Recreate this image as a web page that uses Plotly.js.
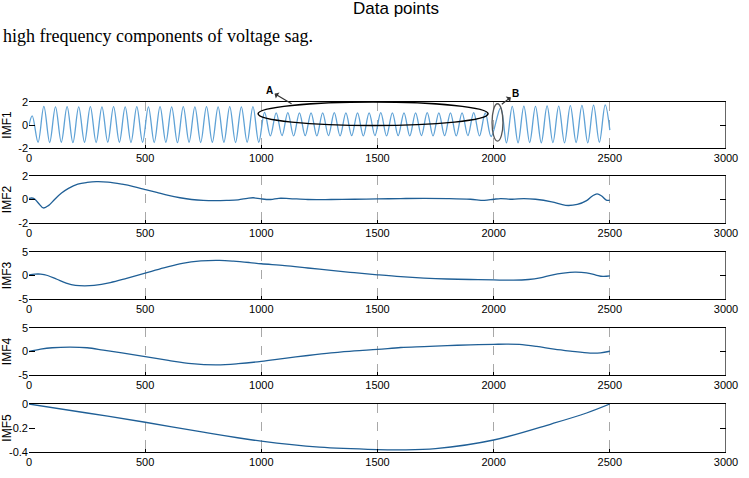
<!DOCTYPE html>
<html>
<head>
<meta charset="utf-8">
<script src="https://cdn.plot.ly/plotly-3.0.1.min.js"></script>
<style>
html,body{margin:0;padding:0;background:#fff;}
#chart{width:749px;height:478px;}
</style>
</head>
<body>
<div id="chart"></div>
<script>
// ---- data ----
const xTicks = [0, 500, 1000, 1500, 2000, 2500, 3000];
const xTickText = ["0", "500", "1000", "1500", "2000", "2500", "3000"];
const imfNames = ["IMF1", "IMF2", "IMF3", "IMF4", "IMF5"];

// IMF1: sample positions of extremes and their values
const imf1X = [0,
  14,39,64,89,114,139,164,189,214,239,264,289,314,339,364,389,414,439,464,489,
  514,539,564,589,614,639,664,689,714,739,764,789,814,839,864,889,914,939,964,989,
  1014,1039,1064,1089,1114,1139,1164,1189,1214,1239,1264,1289,1314,1339,1364,1389,1414,1439,1464,1489,
  1514,1539,1564,1589,1614,1639,1664,1689,1714,1739,1764,1789,1814,1839,1864,1889,1914,1939,1964,1989,
  2030,2055,2080,2105,2130,2155,2180,2205,2230,2255,2280,2305,2330,2355,2380,2405,2430,2455,2480,
  2500];
const imf1Y = [0,
  0.8,-1.5,
  1.62,-1.52,1.58,-1.50,1.60,-1.53,1.57,-1.50,1.60,-1.52,
  1.58,-1.50,1.60,-1.50,1.57,-1.52,1.60,-1.50,1.58,-1.52,
  1.60,-1.50,1.57,-1.53,1.60,-1.50,1.58,-1.52,1.60,-1.50,
  1.57,-1.50,1.60,-1.52,1.58,-1.50,1.60,-1.50,
  1.10,-0.95,1.05,-0.92,1.08,-0.95,1.05,-0.93,1.06,-0.95,
  1.05,-0.92,1.08,-0.95,1.05,-0.93,1.06,-0.95,1.05,-0.92,
  1.08,-0.95,1.05,-0.93,1.06,-0.95,1.05,-0.92,1.08,-0.95,
  1.05,-0.93,1.06,-0.95,1.05,-0.92,1.08,-0.95,1.05,-1.00,
  1.50,-1.55,1.62,-1.55,1.65,-1.52,1.62,-1.55,1.66,-1.53,
  1.65,-1.55,1.68,-1.52,1.70,-1.55,1.72,-1.50,1.75,
  -0.45];

const imf2X = [0,20,40,62,85,110,140,170,210,250,290,340,400,450,500,550,600,650,700,750,
  800,850,900,940,965,1000,1040,1075,1120,1200,1300,1400,1500,1600,1700,1800,1900,1960,2000,2030,
  2080,2130,2180,2250,2310,2360,2400,2425,2445,2465,2485,2500];
const imf2Y = [0.1,0.1,-0.3,-0.72,-0.5,0,0.55,0.95,1.3,1.45,1.52,1.48,1.3,1.1,0.85,0.6,0.35,0.15,0.0,-0.08,
  -0.1,-0.08,-0.03,0.1,0.15,0.05,0.0,0.1,0.08,0.0,0.0,0.02,0.05,0.08,0.1,0.08,0.02,-0.08,0.02,0.08,
  0.02,0.08,0.02,-0.2,-0.5,-0.42,-0.1,0.3,0.48,0.3,-0.05,-0.05];

const imf3X = [0,25,50,80,120,160,200,240,280,350,420,500,580,660,740,820,880,950,1000,1100,
  1200,1300,1400,1500,1600,1700,1800,1900,2000,2085,2150,2200,2250,2300,2350,2400,2440,2470,2500];
const imf3Y = [0.15,0.3,0.3,0.0,-0.8,-1.6,-2.1,-2.2,-2.1,-1.5,-0.6,0.5,1.6,2.6,3.1,3.2,3.05,2.75,2.5,2.1,
  1.6,1.1,0.6,0.15,-0.25,-0.55,-0.75,-0.85,-0.95,-1.0,-0.85,-0.5,0.1,0.5,0.7,0.55,0.1,-0.2,-0.1];

const imf4X = [0,50,100,177,250,320,400,500,600,700,808,900,1000,1100,1200,1300,1400,1500,1600,1700,
  1800,1900,2000,2056,2110,2185,2260,2330,2415,2460,2500];
const imf4Y = [0.0,0.5,0.8,0.93,0.8,0.3,-0.3,-1.1,-1.9,-2.6,-2.85,-2.6,-2.1,-1.45,-0.85,-0.3,0.15,0.45,0.85,1.05,
  1.25,1.42,1.52,1.57,1.5,1.07,0.5,0.08,-0.35,-0.3,0.05];

const imf5X = [0,250,500,750,1000,1250,1500,1600,1750,2000,2250,2400,2500];
const imf5Y = [0,-0.075,-0.152,-0.235,-0.31,-0.36,-0.38,-0.382,-0.372,-0.30,-0.165,-0.075,0];

const yRanges = [[-2,2],[-2,2],[-5,5],[-5,5],[-0.4,0]];
const yTicks = [[-2,0,2],[-2,0,2],[-5,0,5],[-5,0,5],[-0.4,-0.2,0]];
const yTickText = [["-2","0","2"],["-2","0","2"],["-5","0","5"],["-5","0","5"],["-0.4","-0.2","0"]];

// ---- layout geometry ----
const W = 749, H = 478;
const xDom = [29/W, 726/W];
const yPix = [[102,148],[176,223],[252,299],[328,375],[404,452]];

const series = [[imf1X, imf1Y],[imf2X, imf2Y],[imf3X, imf3Y],[imf4X, imf4Y],[imf5X, imf5Y]];
const lineColors = ["#5fa2d6", "#1f5f96", "#1f5f96", "#1f5f96", "#1f5f96"];

const tickFont = {family: "Liberation Sans Narrow, Arial Narrow, Liberation Sans, Arial", size: 11, color: "#000"};

const traces = [];
const layout = {
  width: W, height: H,
  margin: {l: 0, r: 0, t: 0, b: 0},
  paper_bgcolor: "#fff", plot_bgcolor: "#fff",
  showlegend: false,
  shapes: [], annotations: []
};

for (let i = 0; i < 5; i++) {
  const n = i === 0 ? "" : String(i + 1);
  traces.push({
    type: "scatter", mode: "lines",
    x: series[i][0], y: series[i][1],
    xaxis: "x" + n, yaxis: "y" + n,
    line: {color: lineColors[i], width: 1.3, shape: "spline", smoothing: 1.0},
    hoverinfo: "skip"
  });
  layout["xaxis" + n] = {
    domain: xDom, anchor: "y" + n, range: [0, 3000],
    tickvals: xTicks, ticktext: xTickText,
    showgrid: true, gridcolor: "#a8a8a8", griddash: "dash", gridwidth: 1,
    zeroline: false, showline: true, linecolor: "#000", linewidth: 1.2, mirror: true,
    ticks: "inside", ticklen: 3, tickcolor: "#000",
    tickfont: tickFont, fixedrange: true
  };
  layout["yaxis" + n] = {
    domain: [1 - yPix[i][1]/H, 1 - yPix[i][0]/H], anchor: "x" + n,
    range: yRanges[i], tickvals: yTicks[i], ticktext: yTickText[i],
    showgrid: false, zeroline: false, showline: false,
    ticks: "inside", ticklen: 6, tickcolor: "#000", mirror: "ticks",
    tickfont: tickFont, fixedrange: true,
    title: {text: imfNames[i], font: {family: "Liberation Sans, Arial", size: 12, color: "#000"}, standoff: 6}
  };
  layout.shapes.push({
    type: "line", xref: "x" + n, yref: "y" + n + " domain",
    x0: 3000, x1: 3000, y0: 0, y1: 1,
    line: {color: "#000", width: 1.2}
  });
}

// annotations in IMF1 panel
layout.shapes.push({
  type: "circle", xref: "x", yref: "y",
  x0: 986, x1: 1976, y0: -0.05, y1: 2.0,
  line: {color: "#000", width: 1.5}
});
layout.shapes.push({
  type: "circle", xref: "x", yref: "y",
  x0: 1993, x1: 2040, y0: -1.4, y1: 1.85,
  line: {color: "#555", width: 1.3}
});
layout.annotations.push({
  xref: "x", yref: "y", x: 1130, y: 1.85,
  text: "<b>A</b>", showarrow: true, arrowside: "start", arrowhead: 2, arrowsize: 1.2,
  arrowwidth: 1.2, arrowcolor: "#333", ax: -22, ay: -13,
  font: {family: "Liberation Sans, Arial", size: 10, color: "#000"}
});
layout.annotations.push({
  xref: "x", yref: "y", x: 2035, y: 1.8,
  text: "<b>B</b>", showarrow: true, arrowside: "start", arrowhead: 2, arrowsize: 1.2,
  arrowwidth: 1.2, arrowcolor: "#333", ax: 14, ay: -11,
  font: {family: "Liberation Sans, Arial", size: 10, color: "#000"}
});

// page text
layout.annotations.push({
  xref: "paper", yref: "paper", x: 396/W, y: 1 - 8/H, xanchor: "center", yanchor: "middle",
  text: "Data points", showarrow: false,
  font: {family: "Liberation Sans, Arial", size: 17, color: "#000"}
});
layout.annotations.push({
  xref: "paper", yref: "paper", x: 1/W, y: 1 - 36/H, xanchor: "left", yanchor: "middle",
  text: "high frequency components of voltage sag.", showarrow: false,
  font: {family: "Liberation Serif, Times New Roman, serif", size: 18, color: "#000"}
});

Plotly.newPlot("chart", traces, layout, {staticPlot: true, displayModeBar: false});
</script>
</body>
</html>
